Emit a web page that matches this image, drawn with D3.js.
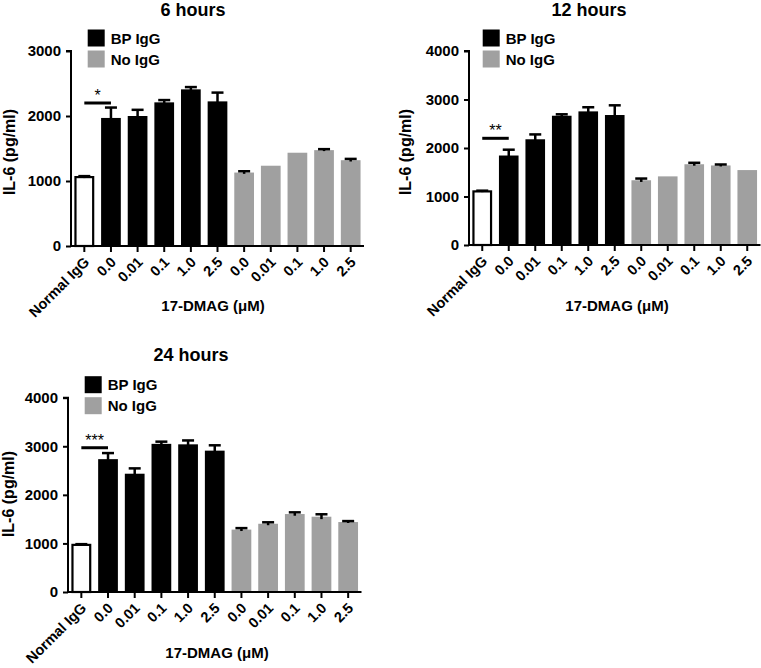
<!DOCTYPE html>
<html><head><meta charset="utf-8">
<script src="https://cdn.jsdelivr.net/npm/d3@7"></script>
<style>
body{margin:0;background:#fff;}
text{font-family:"Liberation Sans",Arial,sans-serif;font-weight:bold;fill:#000;}
</style></head>
<body><svg id="c" width="761" height="668"></svg>
<script>
// ---- data ----
const categories = ["Normal IgG","0.0","0.01","0.1","1.0","2.5","0.0","0.01","0.1","1.0","2.5"];
const groups = ["normal","bp","bp","bp","bp","bp","no","no","no","no","no"];
const legendLabels = ["BP IgG","No IgG"];
const titles = ["6 hours","12 hours","24 hours"];
const means6  = [1060,1970,2000,2210,2410,2225,1130,1235,1435,1475,1320];
const err6    = [15,160,95,35,35,135,20,0,0,15,20];
const means12 = [1105,1845,2180,2665,2755,2680,1335,1415,1665,1640,1545];
const err12   = [15,120,100,30,85,200,35,0,30,20,0];
const means24 = [970,2735,2435,3050,3040,2910,1285,1405,1605,1550,1440];
const err24   = [15,125,110,45,80,110,30,30,35,50,20];
const yTicks6 = [0,1000,2000,3000];
const yTicks = [0,1000,2000,3000,4000];
const sigLabels = ["*","**","***"];
const sigLevels = [2200,2200,2970];
const xTitle = "17-DMAG (\u03bcM)";
const yTitle = "IL-6 (pg/ml)";

const colors = {normal:"#fff", bp:"#000", no:"#a0a0a0"};
const svg = d3.select("#c");

function panel(o){
  const g = svg.append("g");
  const x = d3.scaleBand().domain(d3.range(categories.length)).range([o.x0,o.x1]).paddingInner(0.26).paddingOuter(0.13);
  const y = d3.scaleLinear().domain([0,o.ymax]).range([o.y0,o.y1]);
  // bars
  g.selectAll("rect.bar").data(o.means).join("rect")
    .attr("x",(d,i)=>x(i)+(groups[i]==="normal"?1:0))
    .attr("width",(d,i)=>x.bandwidth()-(groups[i]==="normal"?2:0))
    .attr("y",d=>y(d))
    .attr("height",d=>o.y0-y(d))
    .attr("fill",(d,i)=>colors[groups[i]])
    .attr("stroke",(d,i)=>groups[i]==="normal"?"#000":"none")
    .attr("stroke-width",2.2);
  // error bars
  const eb = g.selectAll("g.eb").data(o.means.map((m,i)=>({m,e:o.err[i],i})).filter(d=>d.e>0)).join("g");
  eb.append("line")
    .attr("x1",d=>x(d.i)+x.bandwidth()/2).attr("x2",d=>x(d.i)+x.bandwidth()/2)
    .attr("y1",d=>y(d.m-d.e)).attr("y2",d=>y(d.m+d.e))
    .attr("stroke","#000").attr("stroke-width",2.5);
  eb.append("line")
    .attr("x1",d=>x(d.i)+x.bandwidth()/2-6).attr("x2",d=>x(d.i)+x.bandwidth()/2+6)
    .attr("y1",d=>y(d.m+d.e)).attr("y2",d=>y(d.m+d.e))
    .attr("stroke","#000").attr("stroke-width",2.5);
  // axes
  const ya = d3.axisLeft(y).tickValues(o.ticks).tickSize(5).tickPadding(5).tickFormat(d3.format("d"));
  const yg = g.append("g").attr("transform",`translate(${o.x0},0)`).call(ya);
  yg.select(".domain").attr("stroke-width",2).attr("d",`M-5,${y(o.ymax)}H0V${o.y0}`);
  yg.selectAll(".tick line").attr("stroke-width",2);
  yg.selectAll("text").style("font-size","15px").style("font-family","Liberation Sans").style("font-weight","bold");
  const xa = d3.axisBottom(x).tickSize(6).tickFormat(i=>categories[i]);
  const xg = g.append("g").attr("transform",`translate(0,${o.y0})`).call(xa);
  xg.select(".domain").attr("stroke-width",2).attr("d",`M${o.x0},0H${o.x1}`);
  xg.selectAll(".tick line").attr("stroke-width",2);
  xg.selectAll("text").style("font-size","14.5px").style("font-family","Liberation Sans").style("font-weight","bold")
    .attr("text-anchor","end").attr("dy",0).attr("y",0)
    .attr("transform","translate(6,17) rotate(-45)");
  // sig
  g.append("line").attr("x1",x(0)+x.bandwidth()/2).attr("x2",x(1)+x.bandwidth()/2)
    .attr("y1",y(o.sig)).attr("y2",y(o.sig)).attr("stroke","#000").attr("stroke-width",3);
  g.append("text").attr("x",(x(0)+x(1))/2+x.bandwidth()/2).attr("y",y(o.sig)-2)
    .attr("text-anchor","middle").style("font-weight","normal").style("font-size","16px").text(o.sigLabel);
  // legend
  const lg = g.append("g").attr("transform",`translate(${o.x0+o.legDx},${o.y1-21.5})`);
  ["bp","no"].forEach((k,j)=>{
    lg.append("rect").attr("x",0).attr("y",j*21).attr("width",17).attr("height",17).attr("fill",colors[k]);
    lg.append("text").attr("x",23).attr("y",j*21+14).style("font-size","15px").text(legendLabels[j]);
  });
  // titles
  g.append("text").attr("x",o.tx).attr("y",o.ty).attr("text-anchor","middle").style("font-size","18px").text(o.title);
  g.append("text").attr("x",o.xtx).attr("y",o.xty).attr("text-anchor","middle").style("font-size","15px").text(xTitle);
  g.append("text").attr("transform",`translate(${o.ytx},${o.yty}) rotate(-90)`).attr("text-anchor","middle").style("font-size","16px").text(yTitle);
}

panel({x0:71,x1:364,y0:246,y1:51,ymax:3000,ticks:yTicks6,means:means6,err:err6,sig:sigLevels[0],sigLabel:sigLabels[0],
  legDx:16.7,title:titles[0],tx:193,ty:16,xtx:213,xty:311,ytx:15,yty:152});
panel({x0:469,x1:760.5,y0:245,y1:51,ymax:4000,ticks:yTicks,means:means12,err:err12,sig:sigLevels[1],sigLabel:sigLabels[1],
  legDx:13.7,title:titles[1],tx:589,ty:16,xtx:617,xty:311,ytx:411,yty:152});
panel({x0:68,x1:361.5,y0:592,y1:397.7,ymax:4000,ticks:yTicks,means:means24,err:err24,sig:sigLevels[2],sigLabel:sigLabels[2],
  legDx:16.7,title:titles[2],tx:191,ty:361,xtx:217,xty:658,ytx:14,yty:494});
</script></body></html>
